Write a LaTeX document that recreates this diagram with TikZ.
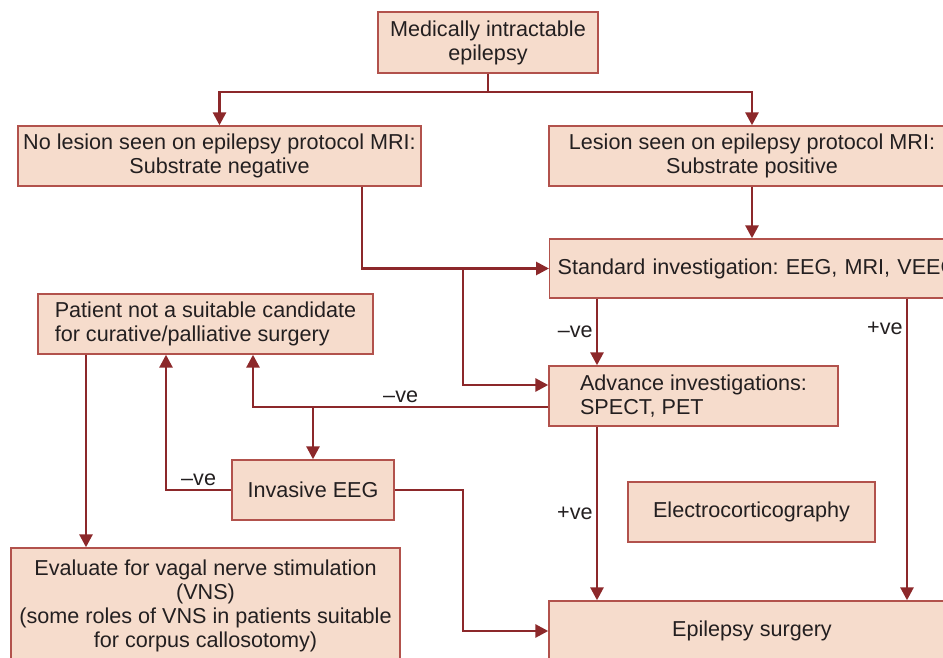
\documentclass[tikz,border=0pt]{standalone}
\usepackage{fontspec}
\setmainfont{Liberation Sans}
\usetikzlibrary{arrows.meta}
\definecolor{linered}{RGB}{140,40,42}
\definecolor{boxedge}{RGB}{178,82,76}
\definecolor{boxfill}{RGB}{246,220,204}
\definecolor{txt}{RGB}{35,31,32}
\frenchspacing

\begin{document}
\begin{tikzpicture}[x=0.5pt, y=-0.5pt, >={Triangle[length=6.5pt,width=6.5pt]},
		font=\fontsize{10.8pt}{12pt}\selectfont, text=txt,
		box/.style={draw=boxedge, line width=0.7pt, fill=boxfill, minimum height=30pt, inner xsep=2pt, inner ysep=2pt, align=center},
		flow/.style={draw=linered, line width=1.4pt},
		lbl/.style={inner sep=1.5pt}]
		\useasboundingbox (0,0) rectangle (943,658);
		\clip (0,0) rectangle (943,658);
		% boxes
		\node[box, minimum width=110pt, minimum height=30.5pt] (top) at (488,42.5) {Medically intractable\\epilepsy};
		\node[box, minimum width=201.5pt] (neg) at (219.5,156) {No lesion seen on epilepsy protocol MRI:\\Substrate negative};
		\node[box, minimum width=203pt] (pos) at (752,156) {Lesion seen on epilepsy protocol MRI:\\Substrate positive};
		\node[box, anchor=west, inner xsep=4pt, text width=250pt, align=left, minimum height=29.5pt] (std) at (549,268.5) {Standard investigation: EEG, MRI, VEEG};
		\node[box, minimum width=167.5pt, align=left] (patient) at (205.5,324) {Patient not a suitable candidate\\for curative/palliative surgery};
		\node[box, minimum width=144.5pt, align=left] (adv) at (693.5,396) {Advance investigations:\\SPECT, PET};
		\node[box, minimum width=81pt] (ieeg) at (313,490) {Invasive EEG};
		\node[box, minimum width=123.5pt] (ecog) at (751.5,512) {Electrocorticography};
		\node[box, minimum width=194.5pt, minimum height=58pt] (vns) at (205.5,606) {Evaluate for vagal nerve stimulation\\(VNS)\\(some roles of VNS in patients suitable\\for corpus callosotomy)};
		\node[box, minimum width=203pt] (surg) at (752,631) {Epilepsy surgery};
		% columns of the connectors
		\coordinate (split) at (488,92);
		\coordinate (cNeg) at (362,0);
		\coordinate (cJoin) at (463,0);
		\coordinate (cMinus) at (597,0);
		\coordinate (cPlus) at (907,0);
		\coordinate (cAdvNeg) at (253,0);
		\coordinate (cEegNeg) at (166,0);
		\coordinate (cVns) at (86,0);
		% connectors
		\draw[flow] (top) -- (split);
		\draw[flow,->] (split) -| (neg.north);
		\draw[flow,->] (split) -| (pos.north);
		\draw[flow,->] (neg.south -| cNeg) |- (std.west);
		\draw[flow,->] (cJoin |- std.west) |- ([yshift=5.5pt]adv.west);
		\draw[flow,->] (pos) -- (pos |- std.north);
		\draw[flow,->] (std.south -| cMinus) -- (adv.north -| cMinus) node[midway,left,lbl] {–ve};
		\draw[flow,->] (std.south -| cPlus) -- (surg.north -| cPlus) node[pos=0.1,left,lbl] {+ve};
		\draw[flow,->] (adv.south -| cMinus) -- (surg.north -| cMinus) node[midway,left,lbl] {+ve};
		\coordinate (advout) at ([yshift=-5.5pt]adv.west);
		\draw[flow,->] (advout) -- (advout -| cAdvNeg) node[midway,above,lbl] {–ve} -- (patient.south -| cAdvNeg);
		\draw[flow,->] (advout -| ieeg.north) -- (ieeg.north);
		\draw[flow,->] (ieeg.west) -- (ieeg.west -| cEegNeg) node[midway,above,lbl] {–ve} -- (patient.south -| cEegNeg);
		\draw[flow,->] (ieeg.east) -| (cJoin |- surg.west) -- (surg.west);
		\draw[flow,->] (patient.south -| cVns) -- (vns.north -| cVns);
	\end{tikzpicture}
\end{document}
